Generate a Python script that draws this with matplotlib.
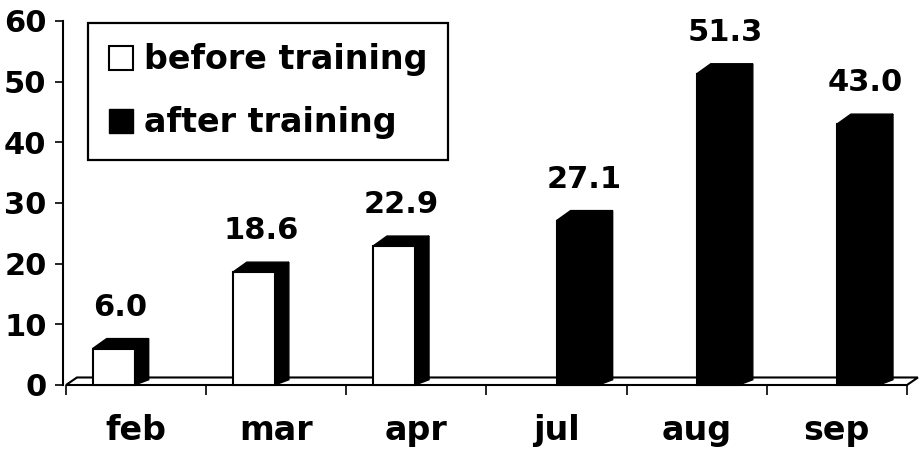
import numpy as np
import matplotlib.pyplot as plt
from matplotlib.patches import Polygon, Patch

# -----------------------------------------------------------------------------
# Data
# -----------------------------------------------------------------------------
months = ["feb", "mar", "apr", "jul", "aug", "sep"]
values = [6.0, 18.6, 22.9, 27.1, 51.3, 43.0]
phase = ["before", "before", "before", "after", "after", "after"]
y_ticks = [0, 10, 20, 30, 40, 50, 60]
legend_labels = ["before training", "after training"]

plt.rcParams.update({
    "font.family": "DejaVu Sans",
    "font.weight": "bold",
})

W, H = 924, 451
fig = plt.figure(figsize=(W / 100, H / 100), dpi=100)
ax = fig.add_axes([66 / W, (H - 385) / H, (907 - 66) / W, (385 - 21) / H])
ax.set_xlim(-0.5, len(months) - 0.5)
ax.set_ylim(0, 60)

# pseudo-3D geometry (data units)
bar_w = 0.30
bar_dx, bar_dy = 0.10, 1.65
floor_dx, floor_dy = 0.078, 1.24
slot = {"before": -0.31, "after": 0.0}

# floor slab
floor = Polygon([(-0.5, 0), (5.5, 0), (5.5 + floor_dx, floor_dy),
                 (-0.5 + floor_dx, floor_dy)],
                closed=True, facecolor="white", edgecolor="black",
                linewidth=1.5, clip_on=False, zorder=1)
ax.add_patch(floor)

for i, (v, p) in enumerate(zip(values, phase)):
    left = i + slot[p]
    right = left + bar_w
    front_fc = "white" if p == "before" else "black"
    front = Polygon([(left, 0), (right, 0), (right, v), (left, v)], closed=True,
                    facecolor=front_fc, edgecolor="black", linewidth=1.5,
                    clip_on=False, zorder=3)
    top = Polygon([(left, v), (right, v), (right + bar_dx, v + bar_dy),
                   (left + bar_dx, v + bar_dy)], closed=True,
                  facecolor="black", edgecolor="black", linewidth=1.0,
                  clip_on=False, zorder=3)
    side = Polygon([(right, 0), (right + bar_dx, floor_dy * 0.7),
                    (right + bar_dx, v + bar_dy), (right, v)], closed=True,
                   facecolor="black", edgecolor="black", linewidth=1.0,
                   clip_on=False, zorder=3)
    for patch in (front, top, side):
        ax.add_patch(patch)
    ax.text(left + (bar_w + bar_dx) / 2, v + 4.4, f"{v:.1f}",
            ha="center", va="bottom", fontsize=22, fontweight="bold")

# axes styling
for s in ["top", "right", "bottom"]:
    ax.spines[s].set_visible(False)
ax.spines["left"].set_linewidth(1.5)
ax.spines["left"].set_position(("outward", 2))

ax.set_yticks(y_ticks)
ax.tick_params(axis="y", length=6, width=1.2, pad=6, labelsize=22)

ax.set_xticks(np.arange(-0.5, len(months), 1))
ax.set_xticks(np.arange(len(months)), minor=True)
ax.set_xticklabels(months, minor=True)
ax.tick_params(axis="x", which="major", length=7, width=1.2, labelbottom=False)
ax.tick_params(axis="x", which="minor", length=0, pad=21, labelsize=24)

handles = [Patch(facecolor="white", edgecolor="black", linewidth=1.5),
           Patch(facecolor="black", edgecolor="black")]
leg = ax.legend(handles, legend_labels, loc="upper left",
                bbox_to_anchor=(0.026, 0.995), borderaxespad=0,
                fontsize=24, handlelength=0.72, handleheight=0.72,
                handletextpad=0.35, labelspacing=0.9, borderpad=0.62,
                fancybox=False, framealpha=1)
leg.get_frame().set_edgecolor("black")
leg.get_frame().set_linewidth(1.6)
for t in leg.get_texts():
    t.set_fontweight("bold")

fig.savefig("out.png", dpi=100)
